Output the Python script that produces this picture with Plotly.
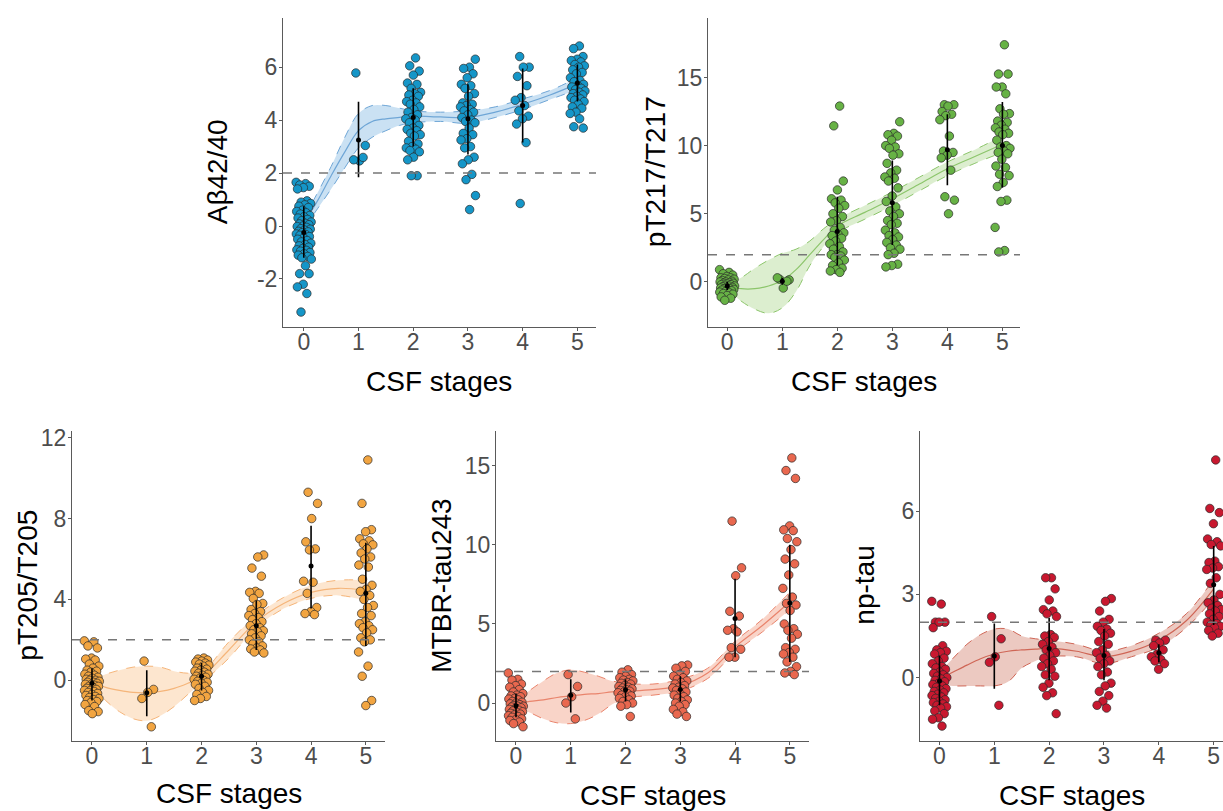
import plotly.graph_objects as go

W, H = 1223, 811
STAGES = [0, 1, 2, 3, 4, 5]
X_LABEL = "CSF stages"

# ---------------- Panel 1: Aβ42/40 ----------------
ab_s0 = [1.65, 1.6, 1.55, 1.5, 1.45, 1.4, 0.95, 0.9, 0.85, 0.8, 0.75, 0.7, 0.6, 0.55, 0.5, 0.45, 0.4, 0.35,
         0.3, 0.25, 0.2, 0.15, 0.1, 0.08, 0.05, 0.0, -0.02, -0.05, -0.1, -0.12, -0.15, -0.2, -0.22, -0.25,
         -0.3, -0.32, -0.35, -0.4, -0.45, -0.5, -0.55, -0.6, -0.65, -0.7, -0.75, -0.8, -0.85, -0.9, -0.92,
         -0.95, -1.0, -1.05, -1.1, -1.15, -1.2, -1.25, -1.5, -1.8, -1.8, -2.2, -2.3, -2.55, -3.25]
ab_s1 = [5.78, 3.04, 2.46, 2.5, 2.59]
ab_s2 = [6.35, 6.05, 5.85, 5.7, 5.4, 5.35, 5.2, 5.05, 5.0, 4.95, 4.9, 4.75, 4.7, 4.65, 4.6, 4.5, 4.4, 4.3,
         4.2, 4.1, 4.05, 4.0, 3.9, 3.8, 3.7, 3.65, 3.6, 3.5, 3.45, 3.4, 3.2, 3.1, 3.0, 2.95, 2.9, 2.85, 2.8,
         2.6, 2.5, 1.9, 1.9]
ab_s3 = [6.3, 6.0, 5.95, 5.75, 5.6, 5.35, 5.3, 5.2, 5.0, 4.9, 4.65, 4.6, 4.55, 4.5, 4.4, 4.35, 4.3, 4.2,
         4.1, 4.0, 3.95, 3.9, 3.7, 3.5, 3.45, 3.3, 3.25, 3.0, 2.95, 2.6, 2.5, 2.35, 1.95, 1.75, 1.15, 0.62]
ab_s4 = [6.4, 6.0, 6.0, 5.65, 5.3, 4.85, 4.75, 4.55, 4.35, 4.15, 4.05, 3.85, 3.15, 0.85]
ab_s5 = [6.8, 6.7, 6.4, 6.3, 6.25, 6.2, 6.1, 6.05, 6.0, 5.9, 5.8, 5.75, 5.6, 5.5, 5.45, 5.35, 5.3, 5.25,
         5.2, 5.15, 5.1, 5.05, 5.0, 4.95, 4.9, 4.85, 4.8, 4.75, 4.7, 4.6, 4.5, 4.45, 4.3, 4.25, 4.05, 3.75, 3.7]
ab_mean = [-0.25, 3.25, 4.1, 4.05, 4.55, 5.4]
ab_lo = [-1.2, 1.84, 3.0, 2.7, 3.15, 4.7]
ab_hi = [0.75, 4.69, 5.2, 5.35, 5.95, 6.1]

FIT_X = [0, 0.25, 0.5, 0.75, 1, 1.25, 1.5, 1.75, 2, 2.5, 3, 3.5, 4, 4.5, 5]
ab_fit = [0.1, 0.95, 1.9, 2.8, 3.6, 3.95, 4.05, 4.1, 4.15, 4.12, 4.1, 4.3, 4.6, 4.95, 5.37]
ab_up = [0.3, 1.25, 2.25, 3.35, 4.25, 4.55, 4.55, 4.45, 4.35, 4.3, 4.35, 4.5, 4.8, 5.12, 5.6]
ab_dn = [-0.1, 0.65, 1.4, 2.2, 2.95, 3.35, 3.6, 3.8, 3.9, 3.95, 3.88, 4.1, 4.4, 4.78, 5.15]

# ---------------- Panel 2: pT217/T217 ----------------
p217_s0 = [0.9, 0.7, 0.6, 0.5, 0.4, 0.3, 0.3, 0.25, 0.2, 0.15, 0.1, 0.05, 0.0, 0.0, -0.05, -0.1, -0.1, -0.15,
           -0.2, -0.2, -0.25, -0.3, -0.3, -0.35, -0.4, -0.4, -0.45, -0.5, -0.5, -0.55, -0.6, -0.6, -0.65,
           -0.7, -0.75, -0.8, -0.85, -0.9, -1.0, -1.1, -1.2, -1.35]
p217_s1 = [0.2, 0.15, -0.45, 0.3, 0.05]
p217_s2 = [12.9, 11.45, 7.4, 6.75, 6.1, 6.0, 5.8, 5.6, 5.4, 5.0, 4.8, 4.5, 4.4, 4.0, 3.8, 3.6, 3.5, 3.4, 3.2,
           3.0, 2.8, 2.6, 2.4, 2.2, 2.0, 2.0, 1.9, 1.8, 1.6, 1.4, 1.2, 1.0, 0.9, 0.8, 0.7]
p217_s3 = [11.75, 10.9, 10.8, 10.7, 10.4, 10.0, 9.9, 9.8, 9.4, 9.3, 8.7, 8.2, 8.0, 7.7, 7.6, 7.4, 6.9, 6.3,
           5.9, 5.5, 5.2, 5.0, 4.8, 4.5, 4.3, 4.2, 3.8, 3.6, 3.4, 3.3, 3.1, 2.9, 2.7, 2.5, 2.4, 2.1, 2.0,
           1.3, 1.2, 1.1]
p217_s4 = [13.0, 13.0, 12.9, 12.5, 12.3, 12.2, 11.9, 10.7, 9.6, 9.5, 9.3, 9.1, 8.2, 6.25, 6.0, 5.0]
p217_s5 = [17.4, 15.25, 15.25, 14.3, 14.3, 13.8, 12.7, 12.35, 12.3, 11.8, 11.7, 11.5, 11.3, 11.2, 11.0, 10.9,
           10.8, 10.4, 10.0, 9.9, 9.8, 9.6, 9.5, 9.4, 9.0, 8.5, 8.4, 7.9, 7.8, 7.3, 7.0, 6.0, 5.9, 4.0, 2.3, 2.2]
p217_mean = [-0.3, 0.05, 3.7, 5.8, 9.7, 10.0]
p217_lo = [-0.6, -0.2, 1.2, 2.7, 7.1, 6.9]
p217_hi = [0.0, 0.3, 6.25, 8.9, 12.3, 13.2]
p217_fit = [-0.3, -0.5, -0.5, -0.3, 0.1, 0.9, 2.0, 3.1, 4.1, 5.1, 6.1, 7.2, 8.3, 9.2, 10.1]
p217_up = [-0.1, 0.3, 1.0, 1.6, 2.1, 2.4, 3.0, 3.9, 4.6, 5.6, 6.6, 7.7, 8.8, 9.7, 10.7]
p217_dn = [-0.5, -1.4, -2.0, -2.3, -1.9, -0.7, 1.2, 2.6, 3.6, 4.6, 5.6, 6.7, 7.8, 8.7, 9.5]

# ---------------- Panel 3: pT205/T205 ----------------
p205_s0 = [1.95, 1.9, 1.7, 1.6, 1.1, 1.05, 1.0, 0.8, 0.7, 0.6, 0.5, 0.45, 0.4, 0.3, 0.25, 0.2, 0.15, 0.1,
           0.05, 0.0, 0.0, -0.05, -0.1, -0.1, -0.15, -0.2, -0.2, -0.25, -0.3, -0.3, -0.35, -0.4, -0.45, -0.5,
           -0.5, -0.55, -0.6, -0.65, -0.7, -0.75, -0.8, -0.85, -0.9, -0.95, -1.0, -1.05, -1.1, -1.2, -1.3,
           -1.5, -1.55, -1.65]
p205_s1 = [0.95, -0.45, -0.6, -0.9, -2.3]
p205_s2 = [1.1, 1.05, 1.0, 0.95, 0.9, 0.85, 0.8, 0.75, 0.7, 0.6, 0.55, 0.5, 0.45, 0.4, 0.35, 0.3, 0.25, 0.2,
           0.15, 0.1, 0.05, 0.0, -0.05, -0.1, -0.15, -0.2, -0.3, -0.4, -0.5, -0.6, -0.7, -0.8, -0.9, -1.0]
p205_s3 = [6.2, 6.1, 5.55, 5.15, 4.4, 4.35, 4.3, 4.05, 3.8, 3.75, 3.5, 3.4, 3.3, 3.2, 3.1, 3.0, 2.9, 2.8,
           2.7, 2.6, 2.5, 2.45, 2.4, 2.3, 2.2, 2.1, 2.0, 1.9, 1.8, 1.7, 1.6, 1.55, 1.5, 1.4, 1.35]
p205_s4 = [9.3, 8.75, 8.0, 6.85, 6.5, 6.45, 4.9, 4.85, 4.3, 3.6, 3.4, 3.3, 3.25]
p205_s5 = [10.9, 8.75, 7.45, 7.35, 7.0, 6.9, 6.75, 6.7, 6.5, 6.3, 6.1, 6.0, 5.7, 5.6, 5.0, 4.7, 4.5, 4.4,
           4.2, 4.0, 3.7, 3.6, 3.3, 3.2, 2.9, 2.8, 2.7, 2.6, 2.5, 2.35, 2.1, 2.0, 1.9, 1.4, 0.7, 0.2, -1.0, -1.25]
p205_mean = [-0.15, -0.62, 0.2, 2.7, 5.65, 4.3]
p205_lo = [-1.0, -1.78, -0.5, 1.5, 3.55, 1.7]
p205_hi = [0.6, 0.5, 0.85, 3.95, 7.65, 6.8]
p205_fit = [-0.1, -0.35, -0.5, -0.6, -0.62, -0.55, -0.4, -0.15, 0.15, 1.5, 2.9, 3.8, 4.35, 4.55, 4.45]
p205_up = [0.05, 0.3, 0.5, 0.65, 0.7, 0.65, 0.45, 0.35, 0.4, 1.9, 3.2, 4.1, 4.7, 4.95, 4.95]
p205_dn = [-0.25, -1.0, -1.55, -1.9, -2.0, -1.75, -1.3, -0.7, -0.15, 1.1, 2.6, 3.55, 4.05, 4.2, 3.95]

# ---------------- Panel 4: MTBR-tau243 ----------------
mt_s0 = [1.9, 1.5, 1.45, 1.2, 1.1, 1.0, 0.85, 0.7, 0.6, 0.5, 0.45, 0.4, 0.3, 0.25, 0.2, 0.1, 0.05, 0.0,
         -0.05, -0.1, -0.15, -0.2, -0.2, -0.25, -0.3, -0.35, -0.4, -0.45, -0.5, -0.55, -0.6, -0.65, -0.7,
         -0.75, -0.8, -0.85, -0.9, -1.0, -1.05, -1.1, -1.2, -1.3, -1.5]
mt_s1 = [1.8, 1.05, 0.4, 0.0, -1.0]
mt_s2 = [2.1, 1.95, 1.8, 1.7, 1.6, 1.5, 1.45, 1.4, 1.3, 1.25, 1.2, 1.1, 1.05, 1.0, 0.95, 0.9, 0.85, 0.8,
         0.75, 0.7, 0.65, 0.6, 0.5, 0.45, 0.4, 0.3, 0.2, 0.1, 0.0, -0.1, -0.2, -0.85]
mt_s3 = [2.4, 2.35, 2.2, 2.0, 1.8, 1.7, 1.6, 1.5, 1.4, 1.3, 1.2, 1.1, 1.0, 0.95, 0.9, 0.8, 0.7, 0.6, 0.5,
         0.4, 0.3, 0.2, 0.1, 0.0, -0.1, -0.2, -0.4, -0.55, -0.7, -0.85]
mt_s4 = [11.5, 8.55, 8.05, 5.8, 5.5, 4.7, 4.6, 4.5, 3.5, 3.4, 2.9, 2.9]
mt_s5 = [15.5, 14.7, 14.2, 11.2, 10.95, 10.9, 10.4, 10.2, 9.7, 9.1, 8.8, 8.1, 7.25, 6.7, 6.3, 6.2, 5.85,
         5.0, 4.7, 4.6, 4.35, 4.1, 3.5, 3.4, 3.2, 3.1, 2.9, 2.6, 2.3, 2.0, 1.9, 1.8]
mt_mean = [-0.17, 0.5, 0.84, 0.85, 5.35, 6.32]
mt_lo = [-0.9, -0.6, 0.1, 0.1, 2.9, 2.6]
mt_hi = [0.6, 1.5, 1.5, 1.7, 7.85, 10.0]
mt_fit = [-0.05, 0.1, 0.2, 0.35, 0.45, 0.55, 0.6, 0.7, 0.75, 0.85, 1.1, 1.9, 3.55, 4.9, 6.4]
mt_up = [0.2, 0.8, 1.4, 1.9, 2.1, 1.95, 1.7, 1.4, 1.25, 1.2, 1.5, 2.2, 3.9, 5.3, 7.0]
mt_dn = [-0.3, -0.6, -1.0, -1.25, -1.3, -1.1, -0.7, -0.1, 0.3, 0.5, 0.75, 1.55, 3.2, 4.5, 5.9]

# ---------------- Panel 5: np-tau ----------------
np_s0 = [2.75, 2.65, 2.0, 2.0, 2.0, 1.8, 1.15, 1.0, 0.95, 0.9, 0.85, 0.7, 0.6, 0.5, 0.4, 0.35, 0.3, 0.2,
         0.15, 0.1, 0.05, 0.0, -0.05, -0.1, -0.15, -0.2, -0.25, -0.3, -0.35, -0.4, -0.45, -0.5, -0.55, -0.6,
         -0.65, -0.7, -0.75, -0.8, -0.85, -0.9, -0.95, -1.0, -1.05, -1.1, -1.2, -1.3, -1.45, -1.5, -1.75]
np_s1 = [2.2, 1.4, 0.75, 0.55, -1.0]
np_s2 = [3.6, 3.6, 3.2, 2.8, 2.45, 2.4, 2.3, 2.2, 1.55, 1.5, 1.45, 1.3, 1.2, 1.1, 1.0, 0.9, 0.8, 0.7, 0.6,
         0.5, 0.4, 0.3, 0.1, 0.05, -0.2, -0.35, -0.55, -0.65, -1.3]
np_s3 = [2.85, 2.75, 2.4, 2.1, 2.0, 1.85, 1.75, 1.7, 1.6, 1.5, 1.3, 1.2, 1.0, 0.9, 0.8, 0.7, 0.6, 0.5, 0.4,
         0.2, 0.1, -0.2, -0.3, -0.5, -0.65, -0.85, -1.0, -1.1]
np_s4 = [1.35, 1.35, 1.25, 1.15, 1.0, 0.85, 0.75, 0.65, 0.6, 0.5, 0.3]
np_s5 = [7.85, 6.1, 5.95, 5.55, 5.0, 4.9, 4.8, 4.75, 4.2, 4.15, 4.0, 3.95, 3.9, 3.6, 3.4, 3.0, 2.8, 2.7,
         2.6, 2.5, 2.45, 2.4, 2.3, 2.2, 2.1, 2.0, 1.95, 1.9, 1.85, 1.8, 1.7, 1.6, 1.5]
np_mean = [-0.12, 0.78, 1.05, 0.8, 0.9, 3.35]
np_lo = [-1.0, -0.4, -0.1, -0.1, 0.55, 1.9]
np_hi = [0.8, 1.95, 2.15, 1.75, 1.2, 4.75]
np_fit = [-0.05, 0.2, 0.45, 0.68, 0.85, 0.95, 1.0, 1.03, 1.05, 0.95, 0.75, 0.95, 1.35, 2.05, 3.2]
np_up = [0.2, 0.7, 1.2, 1.55, 1.75, 1.75, 1.5, 1.4, 1.35, 1.2, 0.95, 1.15, 1.6, 2.3, 3.55]
np_dn = [-0.25, -0.3, -0.3, -0.3, -0.3, -0.15, 0.35, 0.6, 0.75, 0.75, 0.5, 0.75, 1.1, 1.8, 2.85]

THRESHOLD = 2

panels = [
    dict(label="Aβ42/40", groups=[ab_s0, ab_s1, ab_s2, ab_s3, ab_s4, ab_s5], mean=ab_mean, lo=ab_lo, hi=ab_hi,
         fit=ab_fit, up=ab_up, dn=ab_dn, ticks=[-2, 0, 2, 4, 6], yr=[-3.8, 7.86], xr=[-0.38, 5.34],
         box=(283, 596, 12, 323), pt="#1596c8", band="rgba(150,195,232,0.5)", line="#6fa6d6",
         ytitle_x=217, xtitle_y=378),
    dict(label="pT217/T217", groups=[p217_s0, p217_s1, p217_s2, p217_s3, p217_s4, p217_s5], mean=p217_mean,
         lo=p217_lo, hi=p217_hi, fit=p217_fit, up=p217_up, dn=p217_dn, ticks=[0, 5, 10, 15], yr=[-3.28, 19.37],
         xr=[-0.35, 5.32], box=(708, 1020, 12, 323), pt="#67b245", band="rgba(185,222,160,0.5)", line="#8cc56b",
         ytitle_x=655, xtitle_y=378),
    dict(label="pT205/T205", groups=[p205_s0, p205_s1, p205_s2, p205_s3, p205_s4, p205_s5], mean=p205_mean,
         lo=p205_lo, hi=p205_hi, fit=p205_fit, up=p205_up, dn=p205_dn, ticks=[0, 4, 8, 12], yr=[-2.98, 12.34],
         xr=[-0.365, 5.35], box=(72, 385, 428, 740), pt="#f2a541", band="rgba(252,205,160,0.5)", line="#f5b57a",
         ytitle_x=28, xtitle_y=793),
    dict(label="MTBR-tau243", groups=[mt_s0, mt_s1, mt_s2, mt_s3, mt_s4, mt_s5], mean=mt_mean, lo=mt_lo,
         hi=mt_hi, fit=mt_fit, up=mt_up, dn=mt_dn, ticks=[0, 5, 10, 15], yr=[-2.37, 17.21], xr=[-0.365, 5.35],
         box=(496, 809, 428, 740), pt="#e9684f", band="rgba(244,170,145,0.5)", line="#e9846c",
         ytitle_x=442, xtitle_y=795),
    dict(label="np-tau", groups=[np_s0, np_s1, np_s2, np_s3, np_s4, np_s5], mean=np_mean, lo=np_lo, hi=np_hi,
         fit=np_fit, up=np_up, dn=np_dn, ticks=[0, 3, 6], yr=[-2.27, 8.9], xr=[-0.355, 5.17],
         box=(920, 1223, 428, 740), pt="#c8182f", band="rgba(212,135,118,0.45)", line="#cf6656",
         ytitle_x=865, xtitle_y=795),
]


def jitter(n, k):
    # deterministic horizontal spread (low-discrepancy sequence)
    return [0.28 * (((i + k * 7) * 0.6180339887) % 1.0 - 0.5) for i in range(n)]


def tick_text(v):
    return str(v).replace("−", "-")


FONT = "Liberation Sans, Arial, Helvetica, sans-serif"
fig = go.Figure()
layout = dict(width=W, height=H, margin=dict(l=0, r=0, t=0, b=0), paper_bgcolor="white",
              plot_bgcolor="white", showlegend=False, shapes=[], annotations=[])

for idx, p in enumerate(panels):
    n = idx + 1
    xa = "x" if n == 1 else f"x{n}"
    ya = "y" if n == 1 else f"y{n}"
    x0, x1, y0, y1 = p["box"]
    # confidence band
    fig.add_trace(go.Scatter(x=FIT_X, y=p["dn"], mode="lines", line=dict(color=p["line"], width=1, dash="dash",
                             shape="spline"), xaxis=xa, yaxis=ya, hoverinfo="skip"))
    fig.add_trace(go.Scatter(x=FIT_X, y=p["up"], mode="lines", line=dict(color=p["line"], width=1, dash="dash",
                             shape="spline"), fill="tonexty", fillcolor=p["band"], xaxis=xa, yaxis=ya,
                             hoverinfo="skip"))
    fig.add_trace(go.Scatter(x=FIT_X, y=p["fit"], mode="lines", line=dict(color=p["line"], width=1.2,
                             shape="spline"), xaxis=xa, yaxis=ya, hoverinfo="skip"))
    # points
    for s, vals in zip(STAGES, p["groups"]):
        js = jitter(len(vals), s)
        fig.add_trace(go.Scatter(x=[s + j for j in js], y=vals, mode="markers",
                                 marker=dict(size=8.5, color=p["pt"], line=dict(color="#2a2a2a", width=0.7)),
                                 xaxis=xa, yaxis=ya))
    # error bars
    for s, m, lo, hi in zip(STAGES, p["mean"], p["lo"], p["hi"]):
        fig.add_trace(go.Scatter(x=[s, s], y=[lo, hi], mode="lines", line=dict(color="black", width=1.6),
                                 xaxis=xa, yaxis=ya, hoverinfo="skip"))
    fig.add_trace(go.Scatter(x=STAGES, y=p["mean"], mode="markers", marker=dict(size=5, color="black"),
                             xaxis=xa, yaxis=ya))

    axis_common = dict(showgrid=False, zeroline=False, showline=True, linecolor="#5a5a5a", linewidth=1,
                       ticks="outside", ticklen=3, tickcolor="#5a5a5a",
                       tickfont=dict(family=FONT, size=23, color="#4d4d4d"))
    layout["xaxis" if n == 1 else f"xaxis{n}"] = dict(
        axis_common, domain=[x0 / W, x1 / W], range=p["xr"], tickvals=STAGES,
        ticktext=[str(s) for s in STAGES], anchor=ya, ticklabelstandoff=-8)
    layout["yaxis" if n == 1 else f"yaxis{n}"] = dict(
        axis_common, domain=[1 - y1 / H, 1 - y0 / H], range=p["yr"], tickvals=p["ticks"],
        ticktext=[tick_text(t) for t in p["ticks"]], anchor=xa, ticklabelstandoff=-3)
    layout["shapes"].append(dict(type="line", xref=f"{xa} domain", yref=ya, x0=0, x1=1, y0=THRESHOLD,
                                 y1=THRESHOLD, line=dict(color="#777777", width=1.5, dash="dash"),
                                 layer="above"))
    layout["annotations"].append(dict(text=X_LABEL, xref="paper", yref="paper", x=(x0 + x1) / 2 / W,
                                      y=1 - p["xtitle_y"] / H, showarrow=False, xanchor="center",
                                      yanchor="middle", font=dict(family=FONT, size=28, color="black")))
    layout["annotations"].append(dict(text=p["label"], xref="paper", yref="paper", x=p["ytitle_x"] / W,
                                      y=1 - (y0 + y1) / 2 / H, showarrow=False, textangle=-90,
                                      xanchor="center", yanchor="middle",
                                      font=dict(family=FONT, size=28, color="black")))

fig.update_layout(**layout)
post = ("document.documentElement.style.margin='0';document.body.style.margin='0';"
        "document.body.style.padding='0';document.body.style.overflow='hidden';"
        "var gd=document.getElementById('{plot_id}');gd.style.position='fixed';"
        "gd.style.left='0px';gd.style.top='0px';")
fig.write_html("out.html", post_script=post, config={"displayModeBar": False})
